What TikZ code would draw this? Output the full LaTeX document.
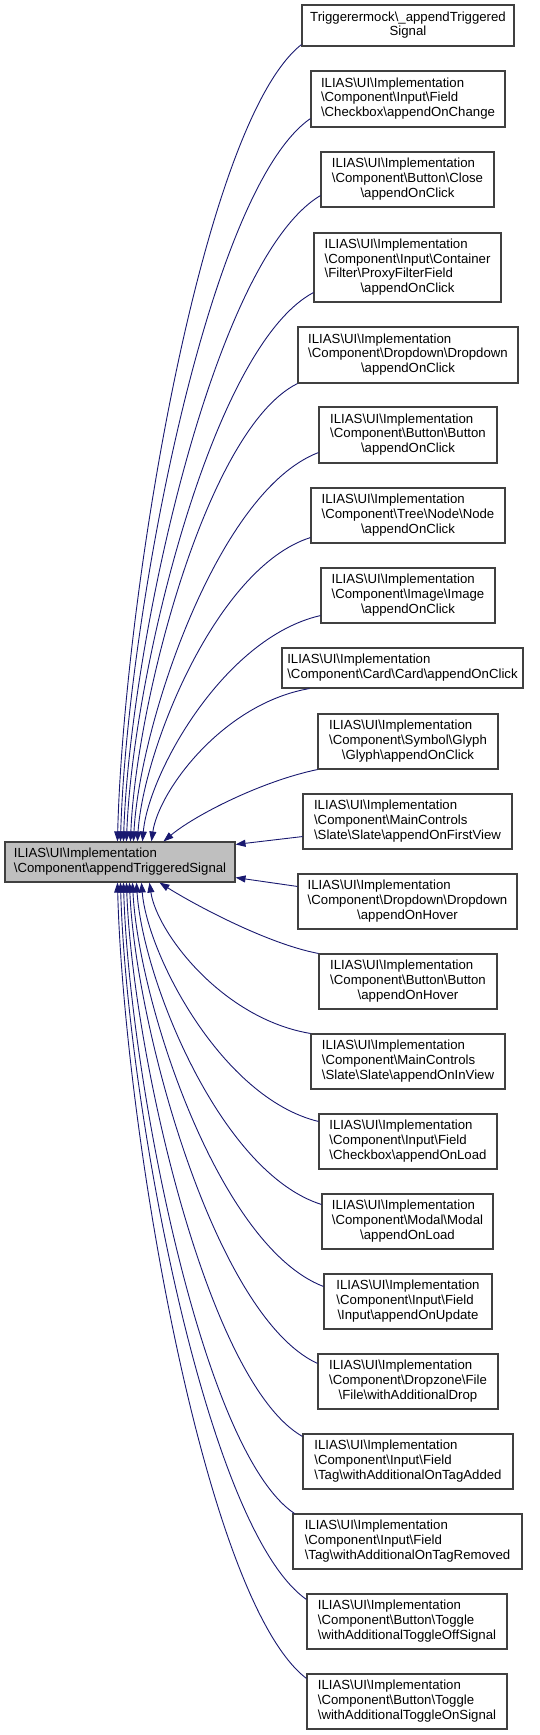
\documentclass[tikz,border=0pt]{standalone}
\usepackage{fontspec}
\setmainfont{Liberation Sans}
\usetikzlibrary{arrows.meta}
\definecolor{edgeblue}{HTML}{191970}
\definecolor{rootgray}{HTML}{BFBFBF}
\newcommand\BS{\textbackslash}
\newcommand\Lines[1]{\begin{tabular}{@{}l@{}}#1\end{tabular}}
\newcommand\Last[1]{\multicolumn{1}{@{}c@{}}{#1}}
\begin{document}
\begin{tikzpicture}[x=1pt,y=-1pt,
  box/.style={draw=black!75, line width=1.1pt, fill=white, inner sep=0pt,
    font=\fontsize{13.2}{14.7}\selectfont},
  rootbox/.style={box, fill=rootgray},
  edge/.style={draw=edgeblue, line width=0.9pt, -{Triangle[length=10pt,width=7pt]}}]
\useasboundingbox (0,0) rectangle (539,1735);

\node[rootbox, minimum width=230pt, minimum height=40pt] (root) at (120,862)
  {\Lines{ILIAS\BS{}UI\BS{}Implementation\\\BS{}Component\BS{}appendTriggeredSignal}};

\node[box, minimum width=212pt, minimum height=41pt] (n1) at (408,25.5)
  {\Lines{Triggerermock\BS\_appendTriggered\\\Last{Signal}}};
\node[box, minimum width=194pt, minimum height=56pt] (n2) at (408,99)
  {\Lines{ILIAS\BS{}UI\BS{}Implementation\\\BS{}Component\BS{}Input\BS{}Field\\\BS{}Checkbox\BS{}appendOnChange}};
\node[box, minimum width=173pt, minimum height=55pt] (n3) at (407.5,179.5)
  {\Lines{ILIAS\BS{}UI\BS{}Implementation\\\BS{}Component\BS{}Button\BS{}Close\\\Last{\BS{}appendOnClick}}};
\node[box, minimum width=187pt, minimum height=69pt] (n4) at (407.5,267.5)
  {\Lines{ILIAS\BS{}UI\BS{}Implementation\\\BS{}Component\BS{}Input\BS{}Container\\\BS{}Filter\BS{}ProxyFilterField\\\Last{\BS{}appendOnClick}}};
\node[box, minimum width=220pt, minimum height=56pt] (n5) at (408,355)
  {\Lines{ILIAS\BS{}UI\BS{}Implementation\\\BS{}Component\BS{}Dropdown\BS{}Dropdown\\\Last{\BS{}appendOnClick}}};
\node[box, minimum width=178pt, minimum height=56pt] (n6) at (408,435)
  {\Lines{ILIAS\BS{}UI\BS{}Implementation\\\BS{}Component\BS{}Button\BS{}Button\\\Last{\BS{}appendOnClick}}};
\node[box, minimum width=194pt, minimum height=55pt] (n7) at (408,515.5)
  {\Lines{ILIAS\BS{}UI\BS{}Implementation\\\BS{}Component\BS{}Tree\BS{}Node\BS{}Node\\\Last{\BS{}appendOnClick}}};
\node[box, minimum width=174pt, minimum height=55pt] (n8) at (408,595.5)
  {\Lines{ILIAS\BS{}UI\BS{}Implementation\\\BS{}Component\BS{}Image\BS{}Image\\\Last{\BS{}appendOnClick}}};
\node[box, minimum width=241pt, minimum height=40pt] (n9) at (402.5,668)
  {\Lines{ILIAS\BS{}UI\BS{}Implementation\\\BS{}Component\BS{}Card\BS{}Card\BS{}appendOnClick}};
\node[box, minimum width=180pt, minimum height=55pt] (n10) at (408,741.5)
  {\Lines{ILIAS\BS{}UI\BS{}Implementation\\\BS{}Component\BS{}Symbol\BS{}Glyph\\\Last{\BS{}Glyph\BS{}appendOnClick}}};
\node[box, minimum width=209pt, minimum height=55pt] (n11) at (407.5,821.5)
  {\Lines{ILIAS\BS{}UI\BS{}Implementation\\\BS{}Component\BS{}MainControls\\\BS{}Slate\BS{}Slate\BS{}appendOnFirstView}};
\node[box, minimum width=219pt, minimum height=55pt] (n12) at (407.5,901.5)
  {\Lines{ILIAS\BS{}UI\BS{}Implementation\\\BS{}Component\BS{}Dropdown\BS{}Dropdown\\\Last{\BS{}appendOnHover}}};
\node[box, minimum width=178pt, minimum height=55pt] (n13) at (408,981.5)
  {\Lines{ILIAS\BS{}UI\BS{}Implementation\\\BS{}Component\BS{}Button\BS{}Button\\\Last{\BS{}appendOnHover}}};
\node[box, minimum width=194pt, minimum height=55pt] (n14) at (408,1061.5)
  {\Lines{ILIAS\BS{}UI\BS{}Implementation\\\BS{}Component\BS{}MainControls\\\BS{}Slate\BS{}Slate\BS{}appendOnInView}};
\node[box, minimum width=178pt, minimum height=55pt] (n15) at (408,1141.5)
  {\Lines{ILIAS\BS{}UI\BS{}Implementation\\\BS{}Component\BS{}Input\BS{}Field\\\BS{}Checkbox\BS{}appendOnLoad}};
\node[box, minimum width=171pt, minimum height=55pt] (n16) at (407.5,1221.5)
  {\Lines{ILIAS\BS{}UI\BS{}Implementation\\\BS{}Component\BS{}Modal\BS{}Modal\\\Last{\BS{}appendOnLoad}}};
\node[box, minimum width=168pt, minimum height=55pt] (n17) at (408,1301.5)
  {\Lines{ILIAS\BS{}UI\BS{}Implementation\\\BS{}Component\BS{}Input\BS{}Field\\\Last{\BS{}Input\BS{}appendOnUpdate}}};
\node[box, minimum width=180pt, minimum height=55pt] (n18) at (408,1381.5)
  {\Lines{ILIAS\BS{}UI\BS{}Implementation\\\BS{}Component\BS{}Dropzone\BS{}File\\\Last{\BS{}File\BS{}withAdditionalDrop}}};
\node[box, minimum width=210pt, minimum height=55pt] (n19) at (408,1461.5)
  {\Lines{ILIAS\BS{}UI\BS{}Implementation\\\BS{}Component\BS{}Input\BS{}Field\\\BS{}Tag\BS{}withAdditionalOnTagAdded}};
\node[box, minimum width=229pt, minimum height=55pt] (n20) at (407.5,1541.5)
  {\Lines{ILIAS\BS{}UI\BS{}Implementation\\\BS{}Component\BS{}Input\BS{}Field\\\BS{}Tag\BS{}withAdditionalOnTagRemoved}};
\node[box, minimum width=200pt, minimum height=55pt] (n21) at (407,1621.5)
  {\Lines{ILIAS\BS{}UI\BS{}Implementation\\\BS{}Component\BS{}Button\BS{}Toggle\\\BS{}withAdditionalToggleOffSignal}};
\node[box, minimum width=200pt, minimum height=55pt] (n22) at (407,1701.5)
  {\Lines{ILIAS\BS{}UI\BS{}Implementation\\\BS{}Component\BS{}Button\BS{}Toggle\\\BS{}withAdditionalToggleOnSignal}};

% edges arriving at the top of the root
\draw[edge] ([yshift=2pt]n1.south west) .. controls (200.8,123.8) and (123.5,602.6) .. ([xshift=113pt]root.north west);
\draw[edge] ([yshift=9pt]n2.south west) .. controls (206.5,190.4) and (126.7,624.8) .. ([xshift=116pt]root.north west);
\draw[edge] ([yshift=12pt]n3.south west) .. controls (212.7,259.7) and (129.9,647.9) .. ([xshift=119pt]root.north west);
\draw[edge] ([yshift=10pt]n4.south west) .. controls (211.2,347) and (132.6,677) .. ([xshift=122pt]root.north west);
\draw[edge] (n5.south west) .. controls (206.2,428.9) and (136,704.3) .. ([xshift=126pt]root.north west);
\draw[edge] ([yshift=11pt]n6.south west) .. controls (217.3,491) and (139.6,725) .. ([xshift=129pt]root.north west);
\draw[edge] ([yshift=6pt]n7.south west) .. controls (215.9,567.5) and (143.2,750.5) .. ([xshift=133pt]root.north west);
\draw[edge] ([yshift=8pt]n8.south west) .. controls (223.6,637.7) and (148.4,773.9) .. ([xshift=138pt]root.north west);
\draw[edge] ([xshift=28pt]n9.south west) .. controls (223.1,703.4) and (158.7,790.8) .. ([xshift=147pt]root.north west);
\draw[edge] (n10.south west) .. controls (262,781) and (195,815) .. ([xshift=159pt]root.north west);
% edges arriving at the right side of the root
\draw[edge] ([yshift=13pt]n11.south west) -- ([yshift=-3pt]root.north east);
\draw[edge] ([yshift=-13pt]n12.north west) -- ([yshift=5pt]root.south east);
% edges arriving at the bottom of the root
\draw[edge] (n13.north west) .. controls (268,944) and (195,905) .. ([xshift=155pt]root.south west);
\draw[edge] (n14.north west) .. controls (222.5,1018.8) and (156.8,932.6) .. ([xshift=145pt]root.south west);
\draw[edge] ([yshift=-8pt]n15.north west) .. controls (221.7,1098) and (147.3,954) .. ([xshift=137pt]root.south west);
\draw[edge] ([yshift=-11pt]n16.north west) .. controls (220.3,1172.7) and (142.6,978.9) .. ([xshift=132pt]root.south west);
\draw[edge] ([yshift=-13pt]n17.north west) .. controls (219,1246.5) and (138.7,1003.5) .. ([xshift=128pt]root.south west);
\draw[edge] ([yshift=-10pt]n18.north west) .. controls (214.6,1315.8) and (135.6,1026.6) .. ([xshift=125pt]root.south west);
\draw[edge] ([yshift=-3pt]n19.north west) .. controls (206.2,1381.5) and (132.3,1048.5) .. ([xshift=122pt]root.south west);
\draw[edge] ([xshift=2pt]n20.north west) .. controls (201,1450.8) and (129.1,1071.6) .. ([xshift=119pt]root.south west);
\draw[edge] ([yshift=-6pt]n21.north west) .. controls (204.7,1528.2) and (126.6,1097.4) .. ([xshift=116pt]root.south west);
\draw[edge] ([yshift=-5pt]n22.north west) .. controls (203,1599.3) and (123.7,1121.1) .. ([xshift=113pt]root.south west);
\end{tikzpicture}
\end{document}
